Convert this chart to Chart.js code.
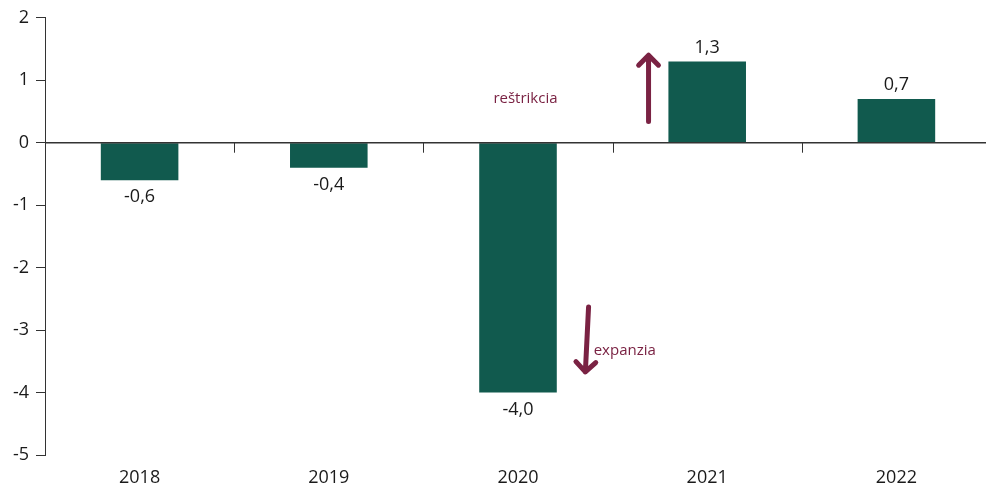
<!DOCTYPE html>
<html>
<head>
<meta charset="utf-8">
<script src="https://cdn.jsdelivr.net/npm/chart.js@4"></script>
<style>
  html, body { margin: 0; padding: 0; background: #fff; }
  #wrap { width: 986px; height: 489px; overflow: hidden; position: relative; }
  #chart { display: block; }
</style>
</head>
<body>
<div id="wrap">
  <canvas id="chart" width="992" height="489"></canvas>
</div>
<script>
// fiscal stance by year
const years = ['2018', '2019', '2020', '2021', '2022'];
const values = [-0.6, -0.4, -4.0, 1.3, 0.7];
const yTicks = [2, 1, 0, -1, -2, -3, -4, -5];

const barColor = '#115a4e';
const arrowColor = '#7a2243';
const axisColor = '#333333';
const textColor = '#1a1a1a';
const font = "'Open Sans', sans-serif";

// arrows and their captions, placed in axis units (x = category index, y = value)
const notes = [
  { text: 'reštrikcia', tx: 1.87, ty: 0.63, from: [2.69, 0.34], to: [2.69, 1.40] },
  { text: 'expanzia', tx: 2.40, ty: -3.40, from: [2.373, -2.63], to: [2.356, -3.67] }
];

const fmt = v => v.toFixed(1).replace('.', ',');

// zero line with small ticks between the years, plus value labels
const zeroAxis = {
  id: 'zeroAxis',
  afterDatasetsDraw(chart) {
    const { ctx, chartArea, scales: { x, y } } = chart;
    const y0 = y.getPixelForValue(0);
    ctx.save();
    ctx.strokeStyle = axisColor;
    ctx.lineWidth = 1.5;
    ctx.beginPath();
    ctx.moveTo(chartArea.left, y0);
    ctx.lineTo(chartArea.right, y0);
    ctx.stroke();
    ctx.lineWidth = 1;
    for (let i = 1; i < years.length; i++) {
      const px = Math.round(x.getPixelForValue(i - 0.5)) + 0.5;
      ctx.beginPath();
      ctx.moveTo(px, y0);
      ctx.lineTo(px, y0 + 10);
      ctx.stroke();
    }

    ctx.fillStyle = textColor;
    ctx.font = `18px ${font}`;
    ctx.textAlign = 'center';
    ctx.textBaseline = 'alphabetic';
    chart.getDatasetMeta(0).data.forEach((bar, i) => {
      const v = values[i];
      const ty = v >= 0 ? bar.y - 9 : bar.y + 22;
      ctx.fillText(fmt(v), bar.x, ty);
    });
    ctx.restore();
  }
};

const arrows = {
  id: 'arrows',
  afterDatasetsDraw(chart) {
    const { ctx, scales: { x, y } } = chart;
    ctx.save();
    ctx.strokeStyle = arrowColor;
    ctx.fillStyle = arrowColor;
    ctx.lineWidth = 5;
    ctx.lineCap = 'round';
    ctx.lineJoin = 'round';
    notes.forEach(n => {
      const x1 = x.getPixelForValue(n.from[0]), y1 = y.getPixelForValue(n.from[1]);
      const x2 = x.getPixelForValue(n.to[0]), y2 = y.getPixelForValue(n.to[1]);
      const ang = Math.atan2(y2 - y1, x2 - x1);
      const head = 14;
      ctx.beginPath();
      ctx.moveTo(x1, y1);
      ctx.lineTo(x2, y2);
      ctx.moveTo(x2 - head * Math.cos(ang - Math.PI / 4), y2 - head * Math.sin(ang - Math.PI / 4));
      ctx.lineTo(x2, y2);
      ctx.lineTo(x2 - head * Math.cos(ang + Math.PI / 4), y2 - head * Math.sin(ang + Math.PI / 4));
      ctx.stroke();

      ctx.font = `15px ${font}`;
      ctx.textAlign = 'left';
      ctx.textBaseline = 'alphabetic';
      ctx.fillText(n.text, x.getPixelForValue(n.tx), y.getPixelForValue(n.ty));
    });
    ctx.restore();
  }
};

const ctx = document.getElementById('chart').getContext('2d');
const chart = new Chart(ctx, {
  type: 'bar',
  data: {
    labels: years,
    datasets: [{
      data: values,
      backgroundColor: barColor,
      borderWidth: 0,
      categoryPercentage: 1,
      barPercentage: 0.41
    }]
  },
  options: {
    responsive: false,
    animation: false,
    layout: { padding: { top: 17, right: 1, left: 0, bottom: 0 } },
    plugins: {
      legend: { display: false },
      tooltip: { enabled: false }
    },
    scales: {
      x: {
        afterFit: s => { s.height = 34; },
        grid: { display: false, drawTicks: false, tickLength: 0 },
        border: { display: false },
        ticks: { color: textColor, font: { family: font, size: 18 }, padding: 12 }
      },
      y: {
        min: -5,
        max: 2,
        afterFit: s => { s.width = 45; },
        afterBuildTicks: s => { s.ticks = yTicks.map(v => ({ value: v })); },
        grid: { drawOnChartArea: false, tickLength: 9, color: axisColor },
        border: { color: axisColor, width: 1 },
        ticks: { color: textColor, font: { family: font, size: 18 }, padding: 7 }
      }
    }
  },
  plugins: [zeroAxis, arrows]
});
</script>
</body>
</html>
